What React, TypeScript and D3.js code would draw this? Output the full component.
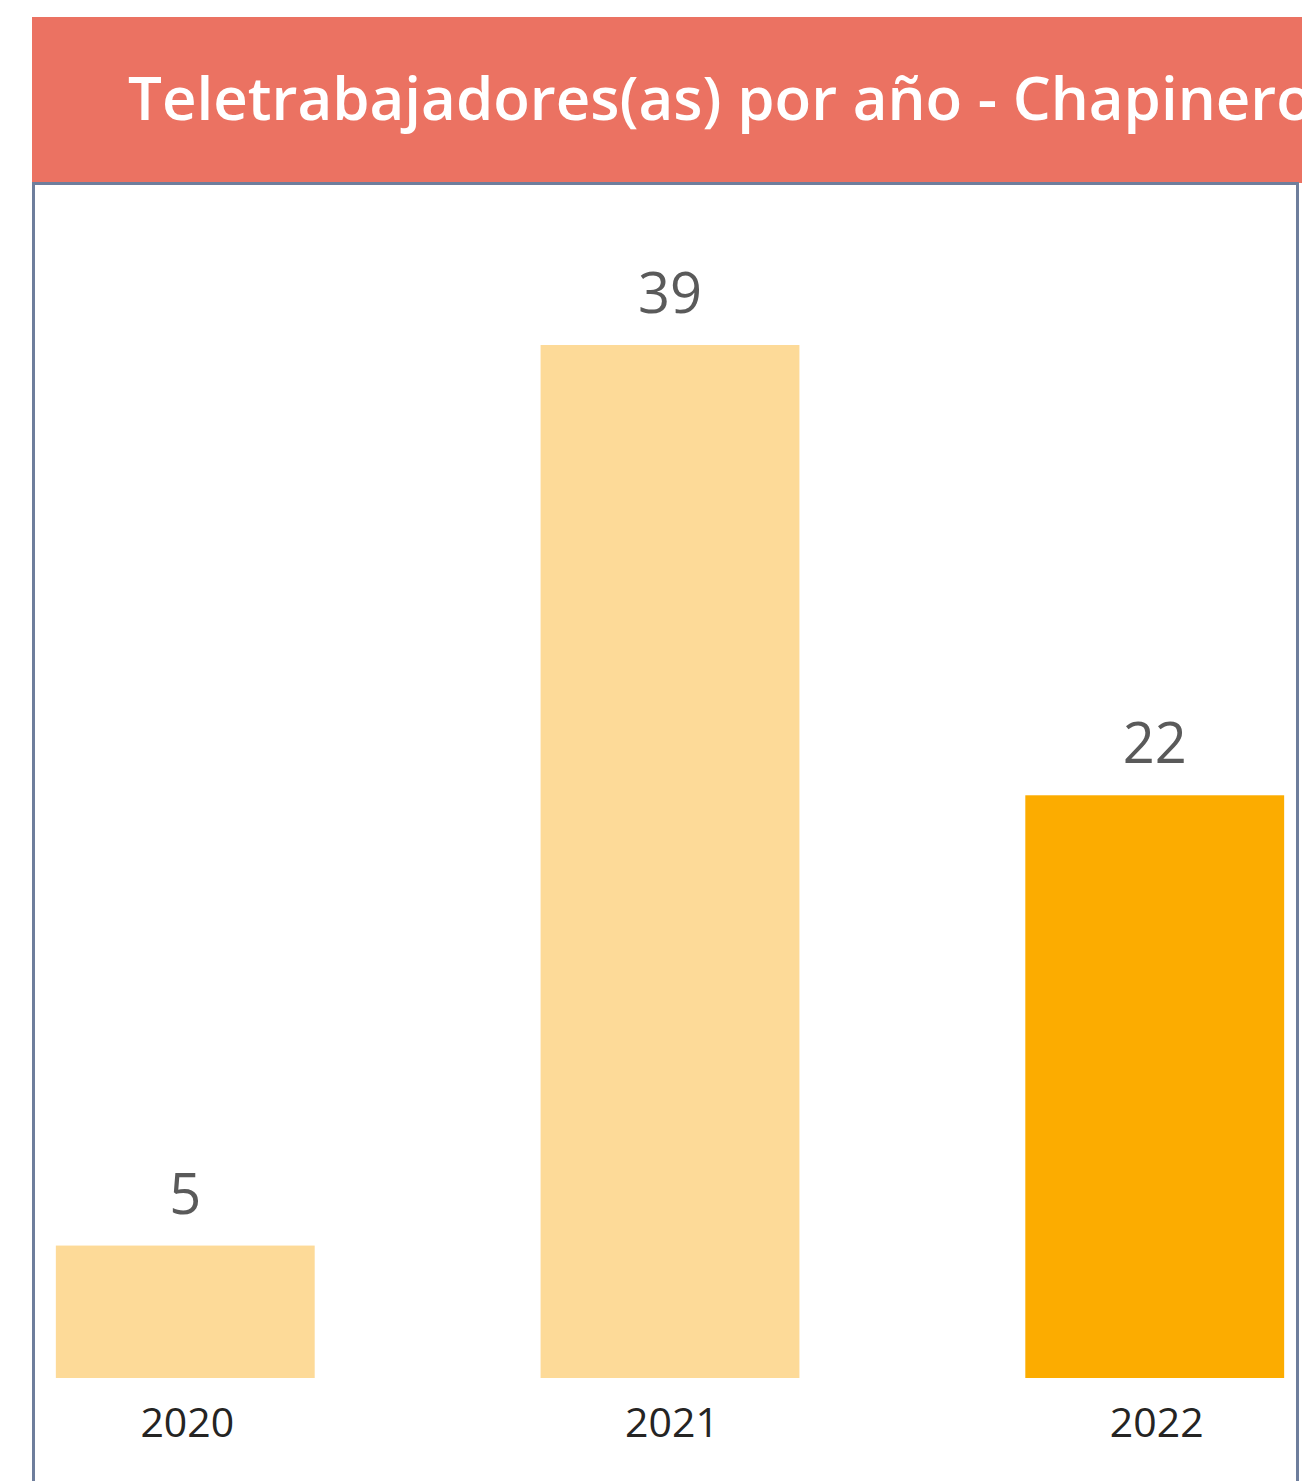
import React from "react";
import * as d3 from "d3";

const years = ["2020", "2021", "2022"];
const values = [5, 39, 22];
const barColors = ["#FDDA98", "#FDDA98", "#FCAC00"];
const title = "Teletrabajadores(as) por año - Chapinero";

const W = 1302;
const H = 1481;

export default function App() {
  const x = d3
    .scaleBand<string>()
    .domain(years)
    .range([35, 1305])
    .paddingInner(0.466)
    .paddingOuter(0.043);
  const baseY = 1378;
  const y = d3.scaleLinear().domain([0, 39]).range([baseY, 345]);

  return (
    <div style={{ position: "absolute", left: 0, top: 0 }}>
      <svg width={W} height={H} style={{ display: "block" }}>
        <rect x={0} y={0} width={W} height={H} fill="#ffffff" />
        <rect x={32} y={17} width={W - 32} height={166} fill="#EB7262" />
        <text
          x={128}
          y={120}
          fill="#ffffff"
          fontFamily="'Open Sans', 'Noto Sans', sans-serif"
          fontWeight={600}
          fontSize={60}
        >
          {title}
        </text>
        <path
          d={`M33.5,${H + 5} V183.5 H1297.5 V${H + 5}`}
          fill="none"
          stroke="#6E7E9C"
          strokeWidth={3}
        />
        {years.map((yr, i) => (
          <g key={yr}>
            <rect
              x={x(yr)}
              y={y(values[i])}
              width={x.bandwidth()}
              height={baseY - y(values[i])}
              fill={barColors[i]}
            />
            <text
              x={(x(yr) as number) + x.bandwidth() / 2}
              y={y(values[i]) - 32}
              textAnchor="middle"
              fill="#5A5A5A"
              fontFamily="'Open Sans', 'Noto Sans', sans-serif"
              fontSize={56}
            >
              {values[i]}
            </text>
            <text
              x={(x(yr) as number) + x.bandwidth() / 2 + 2}
              y={1437}
              textAnchor="middle"
              fill="#252423"
              fontFamily="'Open Sans', 'Noto Sans', sans-serif"
              fontSize={41}
            >
              {yr}
            </text>
          </g>
        ))}
      </svg>
    </div>
  );
}
